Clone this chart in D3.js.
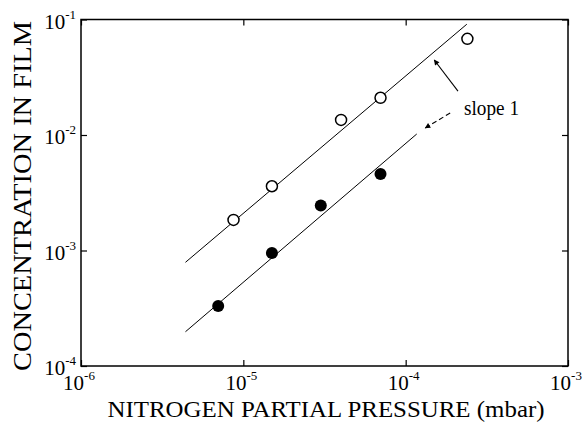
<!DOCTYPE html>
<html>
<head>
<meta charset="utf-8">
<script src="https://cdn.jsdelivr.net/npm/d3@7"></script>
<style>
  body { margin: 0; background: #fff; }
  text { font-family: "Liberation Serif", "Times New Roman", serif; fill: #000; }
</style>
</head>
<body>
<svg width="585" height="429"></svg>
<script>
// data
const openX = [8.7e-6, 1.5e-5, 4.0e-5, 7.0e-5, 2.4e-4];
const openY = [1.84e-3, 3.6e-3, 1.35e-2, 2.1e-2, 6.8e-2];
const filledX = [7.0e-6, 1.5e-5, 3.0e-5, 7.0e-5];
const filledY = [3.3e-4, 9.5e-4, 2.45e-3, 4.6e-3];
// fitted lines, end points
const upperLineX = [4.4e-6, 2.38e-4];
const upperLineY = [7.9e-4, 9.1e-2];
const lowerLineX = [4.4e-6, 1.17e-4];
const lowerLineY = [1.98e-4, 1.02e-2];
// annotation arrows: [tail, head]
const arrowUpperX = [2.1e-4, 1.5e-4];
const arrowUpperY = [2.4e-2, 4.46e-2];
const arrowLowerX = [1.88e-4, 1.32e-4];
const arrowLowerY = [1.55e-2, 1.15e-2];
const xTicks = [1e-6, 1e-5, 1e-4, 1e-3];
const yTicks = [1e-4, 1e-3, 1e-2, 1e-1];
const xTickLabels = ["-6", "-5", "-4", "-3"];
const yTickLabels = ["-4", "-3", "-2", "-1"];

const margin = { top: 19.5, right: 17, bottom: 63, left: 81 };
const width = 585, height = 429;

var svg = d3.select("svg");

var x = d3.scaleLog().domain([1e-6, 1e-3]).range([margin.left, width - margin.right]);
var y = d3.scaleLog().domain([1e-4, 1e-1]).range([height - margin.bottom, margin.top]);

svg.append("defs").append("marker")
  .attr("id", "head")
  .attr("viewBox", "0 0 10 10")
  .attr("refX", 9)
  .attr("refY", 5)
  .attr("markerWidth", 9)
  .attr("markerHeight", 5.5)
  .attr("markerUnits", "userSpaceOnUse")
  .attr("orient", "auto")
  .append("path")
  .attr("d", "M0,0 L10,5 L0,10 Z")
  .attr("fill", "#000");

// frame
svg.append("rect")
  .attr("x", x(1e-6))
  .attr("y", y(1e-1))
  .attr("width", x(1e-3) - x(1e-6))
  .attr("height", y(1e-4) - y(1e-1))
  .attr("fill", "none")
  .attr("stroke", "#000")
  .attr("stroke-width", 1.5);

// inward ticks on all sides
function axisStyle(g) {
  g.select(".domain").remove();
  g.selectAll(".tick line").attr("stroke", "#000").attr("stroke-width", 1.2);
  g.selectAll(".tick text").remove();
}
svg.append("g").attr("transform", "translate(0," + y(1e-4) + ")")
  .call(d3.axisBottom(x).tickValues(xTicks).tickSize(-6)).call(axisStyle);
svg.append("g").attr("transform", "translate(0," + y(1e-1) + ")")
  .call(d3.axisTop(x).tickValues(xTicks).tickSize(-6)).call(axisStyle);
svg.append("g").attr("transform", "translate(" + x(1e-6) + ",0)")
  .call(d3.axisLeft(y).tickValues(yTicks).tickSize(-6)).call(axisStyle);
svg.append("g").attr("transform", "translate(" + x(1e-3) + ",0)")
  .call(d3.axisRight(y).tickValues(yTicks).tickSize(-6)).call(axisStyle);

// tick labels with superscripts
var xl = svg.append("g").selectAll("text").data(xTicks).enter().append("text")
  .attr("x", d => x(d) - 2)
  .attr("y", y(1e-4) + 24)
  .attr("text-anchor", "middle")
  .style("font-size", "21px");
xl.append("tspan").text("10");
xl.append("tspan").attr("dy", -10).style("font-size", "13px").text((d, i) => xTickLabels[i]);

var yl = svg.append("g").selectAll("text").data(yTicks).enter().append("text")
  .attr("x", x(1e-6) - 5)
  .attr("y", d => y(d) + 9)
  .attr("text-anchor", "end")
  .style("font-size", "21px");
yl.append("tspan").text("10");
yl.append("tspan").attr("dy", -10).style("font-size", "13px").text((d, i) => yTickLabels[i]);

// fit lines
var line = d3.line().x(d => x(d[0])).y(d => y(d[1]));
svg.append("path")
  .datum(d3.zip(upperLineX, upperLineY))
  .attr("d", line)
  .attr("fill", "none")
  .attr("stroke", "#000")
  .attr("stroke-width", 1);
svg.append("path")
  .datum(d3.zip(lowerLineX, lowerLineY))
  .attr("d", line)
  .attr("fill", "none")
  .attr("stroke", "#000")
  .attr("stroke-width", 1);

// data points
svg.append("g").selectAll("circle").data(d3.zip(openX, openY)).enter().append("circle")
  .attr("cx", d => x(d[0]))
  .attr("cy", d => y(d[1]))
  .attr("r", 5.5)
  .attr("fill", "#fff")
  .attr("stroke", "#000")
  .attr("stroke-width", 1.5);
svg.append("g").selectAll("circle").data(d3.zip(filledX, filledY)).enter().append("circle")
  .attr("cx", d => x(d[0]))
  .attr("cy", d => y(d[1]))
  .attr("r", 6)
  .attr("fill", "#000");

// annotation
svg.append("path")
  .datum(d3.zip(arrowUpperX, arrowUpperY))
  .attr("d", line)
  .attr("stroke", "#000")
  .attr("stroke-width", 1.1)
  .attr("marker-end", "url(#head)");
svg.append("path")
  .datum(d3.zip(arrowLowerX, arrowLowerY))
  .attr("d", line)
  .attr("stroke", "#000")
  .attr("stroke-width", 1.1)
  .attr("stroke-dasharray", "5,3")
  .attr("marker-end", "url(#head)");
svg.append("text")
  .attr("x", 464)
  .attr("y", 115)
  .attr("textLength", 55)
  .attr("lengthAdjust", "spacingAndGlyphs")
  .style("font-size", "20px")
  .text("slope 1");

// axis titles
svg.append("text")
  .attr("x", 326)
  .attr("y", 417)
  .attr("text-anchor", "middle")
  .attr("textLength", 437)
  .attr("lengthAdjust", "spacingAndGlyphs")
  .style("font-size", "24px")
  .text("NITROGEN PARTIAL PRESSURE (mbar)");
svg.append("text")
  .attr("transform", "translate(31,196) rotate(-90)")
  .attr("text-anchor", "middle")
  .attr("textLength", 350)
  .attr("lengthAdjust", "spacingAndGlyphs")
  .style("font-size", "25px")
  .text("CONCENTRATION IN FILM");
</script>
</body>
</html>
